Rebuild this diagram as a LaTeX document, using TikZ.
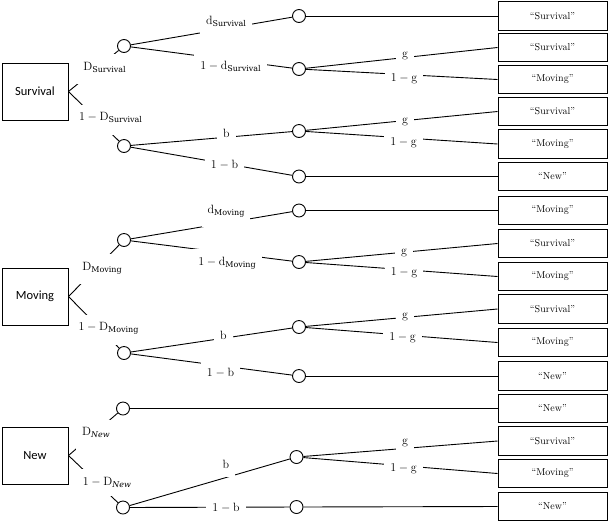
\documentclass[tikz,border=0pt]{standalone}
\usepackage{fontspec}
\newfontfamily\calfont{Carlito}
\newfontfamily\subfnt{DejaVu Serif}
\newcommand\lsub[1]{\raisebox{-2pt}{\subfnt\fontsize{8}{8}\selectfont #1}}
\begin{document}
\begin{tikzpicture}[x=1pt,y=-1pt,line width=0.9pt,
  src/.style={draw,line width=1pt,minimum width=66pt,minimum height=57pt,inner sep=0pt,font=\calfont\fontsize{12.5}{15}\selectfont},
  res/.style={draw,line width=1pt,minimum width=109pt,minimum height=28.5pt,inner sep=0pt,font=\fontsize{10}{12}\selectfont},
  chance/.style={circle,draw,minimum size=13pt,inner sep=0pt,fill=white},
  lbl/.style={fill=white,anchor=base,inner xsep=6pt,inner ysep=0pt,text height=16pt,text depth=14pt,font=\fontsize{12}{14}\selectfont}]
\useasboundingbox (0,0) rectangle (609,523);
% source boxes
\node[src] (S) at (35,91.5) {Survival};
\node[src] (M) at (35,296.5) {Moving};
\node[src] (N) at (35,455.5) {New};
% result boxes
\node[res] (r1) at (552.5,16) {“Survival”};
\node[res] (r2) at (552.5,47.5) {“Survival”};
\node[res] (r3) at (552.5,79.5) {“Moving”};
\node[res] (r4) at (552.5,111.5) {“Survival”};
\node[res] (r5) at (552.5,144) {“Moving”};
\node[res] (r6) at (552.5,176.5) {“New”};
\node[res] (r7) at (552.5,210.5) {“Moving”};
\node[res] (r8) at (552.5,243.5) {“Survival”};
\node[res] (r9) at (552.5,276.5) {“Moving”};
\node[res] (r10) at (552.5,309) {“Survival”};
\node[res] (r11) at (552.5,342.5) {“Moving”};
\node[res] (r12) at (552.5,376) {“New”};
\node[res] (r13) at (552.5,408.5) {“New”};
\node[res] (r14) at (552.5,441) {“Survival”};
\node[res] (r15) at (552.5,473.5) {“Moving”};
\node[res] (r16) at (552.5,506.5) {“New”};
% chance nodes
\node[chance] (sa) at (124,46) {};
\node[chance] (sb) at (124,146) {};
\node[chance] (sa1) at (299,16) {};
\node[chance] (sa2) at (299,69) {};
\node[chance] (sb1) at (299,131) {};
\node[chance] (sb2) at (299,176.5) {};
\node[chance] (ma) at (124,240) {};
\node[chance] (mb) at (124,353) {};
\node[chance] (ma1) at (299,210.5) {};
\node[chance] (ma2) at (299,262) {};
\node[chance] (mb1) at (299,327) {};
\node[chance] (mb2) at (299,376) {};
\node[chance] (na) at (123,408.5) {};
\node[chance] (nb) at (123,507.5) {};
\node[chance] (nb1) at (296.5,457) {};
\node[chance] (nb2) at (296.5,507) {};
% connectors
\draw (S.east) -- (sa); \draw (S.east) -- (sb);
\draw (sa) -- (sa1); \draw (sa) -- (sa2);
\draw (sb) -- (sb1); \draw (sb) -- (sb2);
\draw (sa1) -- (r1.west);
\draw (sa2) -- (r2.west); \draw (sa2) -- (r3.west);
\draw (sb1) -- (r4.west); \draw (sb1) -- (r5.west);
\draw (sb2) -- (r6.west);
\draw (M.east) -- (ma); \draw (M.east) -- (mb);
\draw (ma) -- (ma1); \draw (ma) -- (ma2);
\draw (mb) -- (mb1); \draw (mb) -- (mb2);
\draw (ma1) -- (r7.west);
\draw (ma2) -- (r8.west); \draw (ma2) -- (r9.west);
\draw (mb1) -- (r10.west); \draw (mb1) -- (r11.west);
\draw (mb2) -- (r12.west);
\draw (N.east) -- (na); \draw (N.east) -- (nb);
\draw (na) -- (r13.west);
\draw (nb) -- (nb1); \draw (nb) -- (nb2);
\draw (nb1) -- (r14.west); \draw (nb1) -- (r15.west);
\draw (nb2) -- (r16.west);
% labels (white boxes interrupt the connectors)
\node[lbl] (lSa) at (104.5,70) {D\lsub{Survival}};
\node[lbl] (lSb) at (110.5,120.5) {$1-\mathrm{D}$\lsub{Survival}};
\node[lbl] (lsa1) at (226,24.5) {d\lsub{Survival}};
\node[lbl] (lsa2) at (230.5,69.5) {$1-\mathrm{d}$\lsub{Survival}};
\node[lbl] (lsb1) at (226.5,137) {b};
\node[lbl] (lsb2) at (224.5,168) {$1-\mathrm{b}$};
\node[lbl] (lg2) at (405,57.5) {g};
\node[lbl] (lg3) at (404,81) {$1-\mathrm{g}$};
\node[lbl] (lg4) at (405,123) {g};
\node[lbl] (lg5) at (403.5,145) {$1-\mathrm{g}$};
\node[lbl] (lMa) at (102,270) {D\lsub{Moving}};
\node[lbl] (lMb) at (108.5,330.5) {$1-\mathrm{D}$\lsub{Moving}};
\node[lbl] (lma1) at (226,213) {d\lsub{Moving}};
\node[lbl] (lma2) at (227,265) {$1-\mathrm{d}$\lsub{Moving}};
\node[lbl] (lmb1) at (223.5,339) {b};
\node[lbl] (lmb2) at (220.5,376) {$1-\mathrm{b}$};
\node[lbl] (lg8) at (404,254.5) {g};
\node[lbl] (lg9) at (404,275) {$1-\mathrm{g}$};
\node[lbl] (lg10) at (405,318.5) {g};
\node[lbl] (lg11) at (402.5,340.5) {$1-\mathrm{g}$};
\node[lbl] (lNa) at (96,435.5) {D\lsub{\itshape New}};
\node[lbl,text depth=11pt] (lNb) at (107,485) {$1-\mathrm{D}$\lsub{\itshape New}};
\node[lbl,text depth=9pt] (lnb1) at (226,468) {b};
\node[lbl] (lnb2) at (226,511) {$1-\mathrm{b}$};
\node[lbl] (lg14) at (405,444.5) {g};
\node[lbl] (lg15) at (403.5,471) {$1-\mathrm{g}$};
\end{tikzpicture}
\end{document}
